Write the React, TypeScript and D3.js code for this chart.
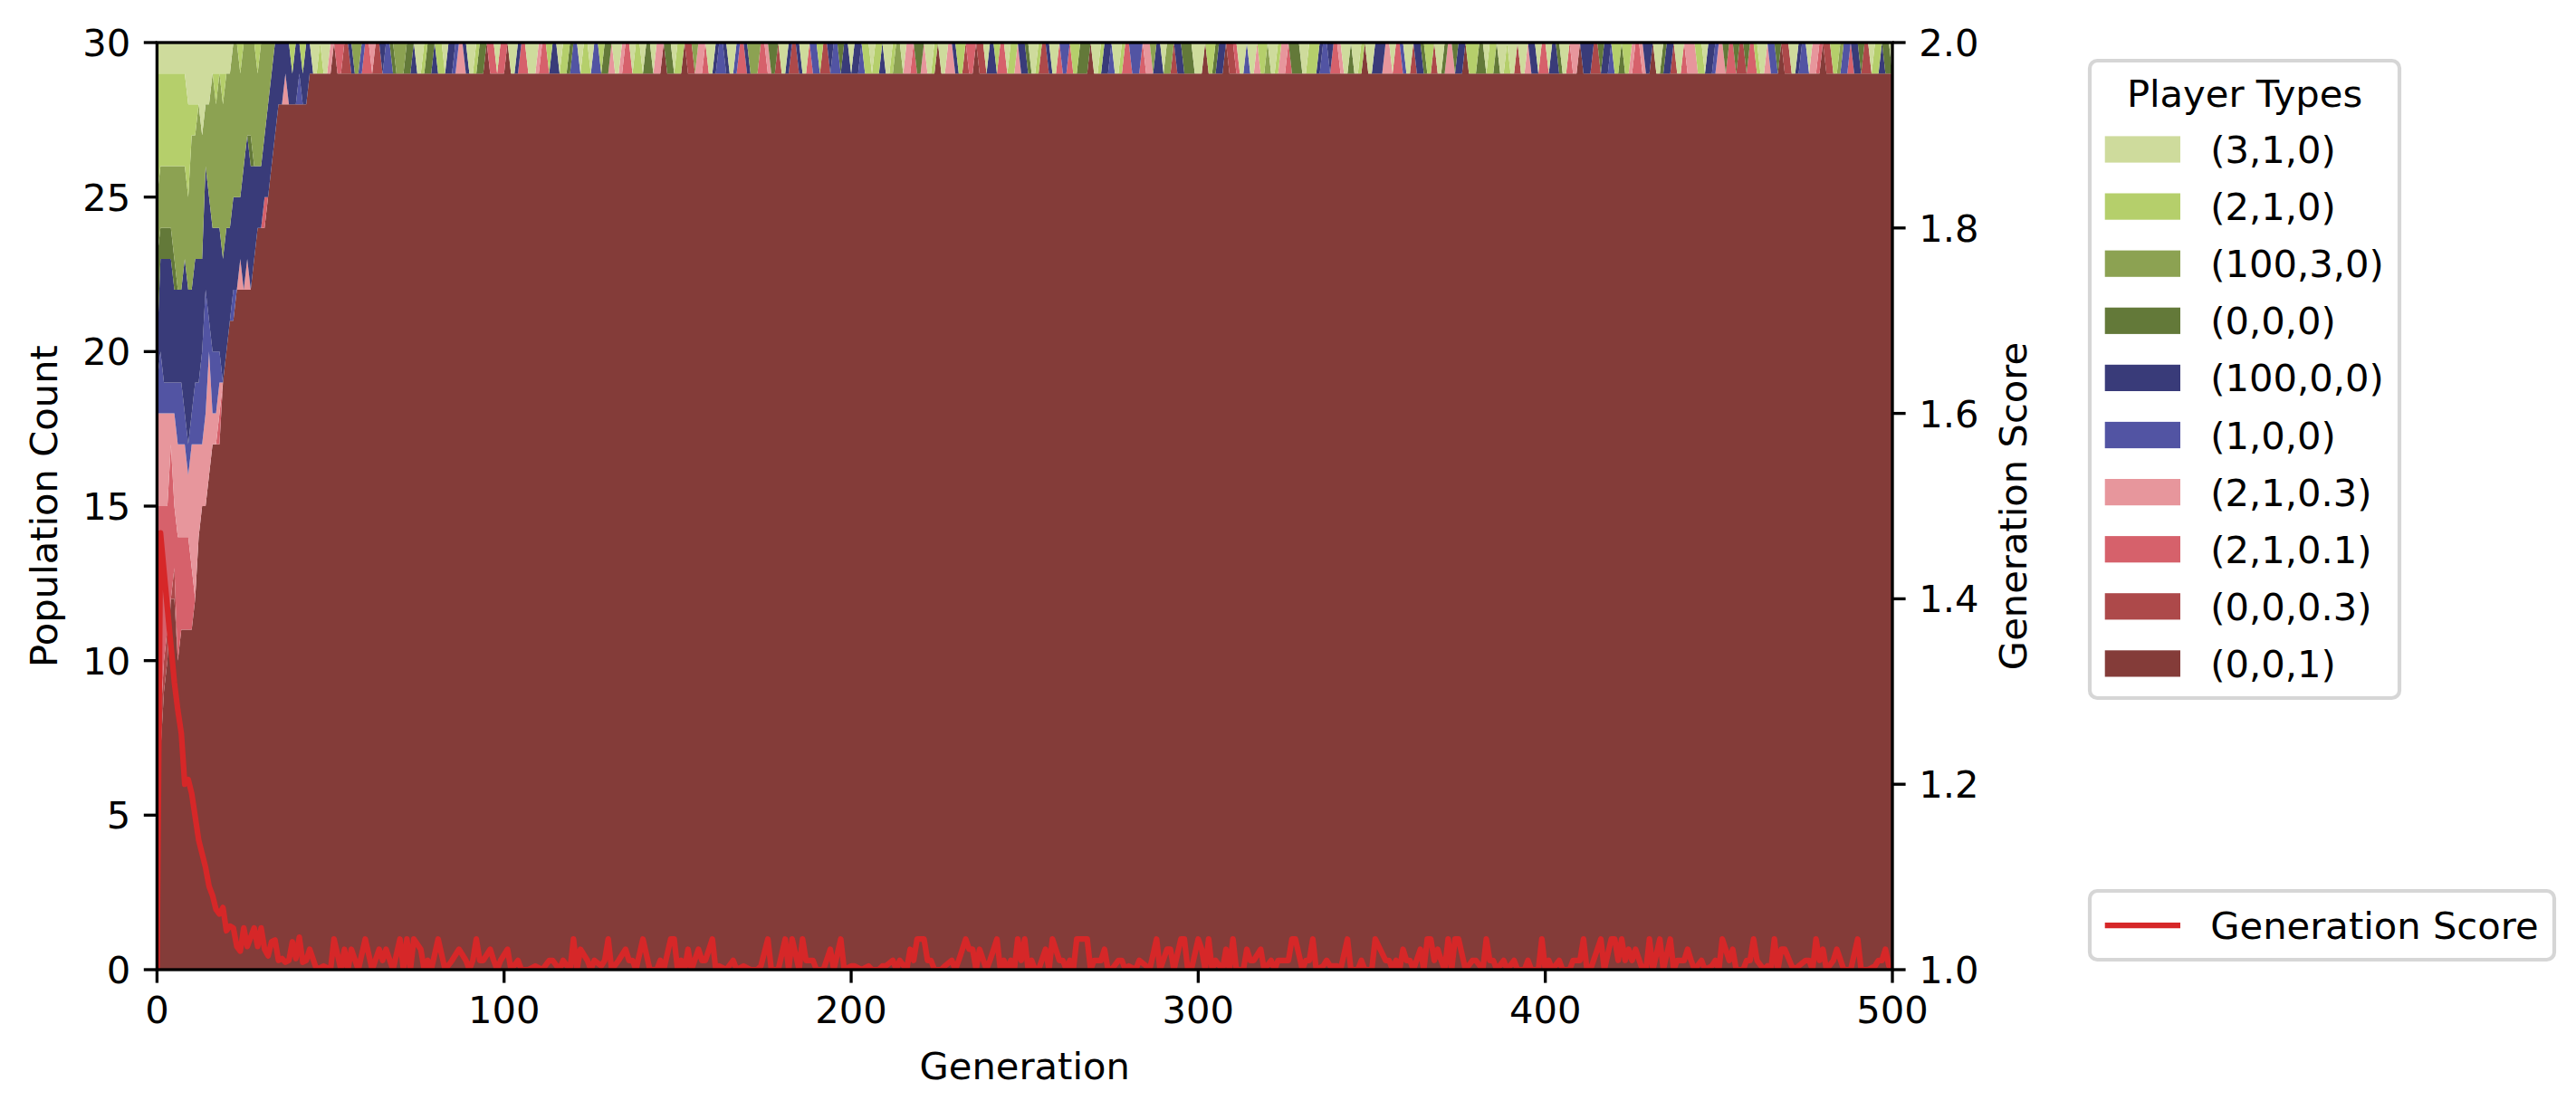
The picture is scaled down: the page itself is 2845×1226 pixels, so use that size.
import React from 'react';
import * as d3 from 'd3';

// player types in stacking order, bottom to top
const TYPE_LABELS = ['(0,0,1)', '(0,0,0.3)', '(2,1,0.1)', '(2,1,0.3)', '(1,0,0)', '(100,0,0)', '(0,0,0)', '(100,3,0)', '(2,1,0)', '(3,1,0)'];
const TYPE_COLORS = ['#843c39', '#ad494a', '#d6616b', '#e7969c', '#5254a3', '#393b79', '#637939', '#8ca252', '#b5cf6b', '#cedb9c'];
const POPULATION = 30;

// generations 0-43: cumulative top of the first nine types (the last one always ends at 30)
const EARLY_BOUNDS = [
  [3, 4, 15, 18, 19, 20, 23, 25, 29],
  [7, 8, 15, 18, 20, 23, 24, 26, 29],
  [9, 10, 15, 18, 19, 23, 24, 26, 29],
  [10, 11, 15, 18, 19, 23, 24, 26, 29],
  [12, 12, 17, 18, 19, 23, 24, 26, 29],
  [12, 13, 15, 18, 19, 22, 23, 26, 29],
  [10, 10, 14, 17, 19, 22, 22, 26, 29],
  [11, 11, 14, 17, 19, 22, 22, 26, 29],
  [11, 11, 14, 17, 18, 23, 23, 26, 29],
  [11, 11, 14, 16, 17, 22, 22, 25, 28],
  [11, 11, 13, 17, 18, 22, 22, 27, 28],
  [12, 12, 12, 17, 19, 23, 23, 27, 28],
  [14, 14, 14, 17, 19, 23, 23, 28, 28],
  [15, 15, 15, 17, 20, 23, 23, 27, 27],
  [15, 15, 15, 18, 22, 26, 26, 28, 28],
  [16, 16, 16, 20, 21, 25, 25, 28, 28],
  [17, 17, 17, 18, 20, 24, 24, 29, 29],
  [17, 17, 17, 18, 20, 24, 24, 28, 29],
  [17, 17, 18, 19, 20, 24, 24, 29, 29],
  [19, 19, 19, 19, 19, 23, 23, 28, 29],
  [20, 20, 20, 20, 20, 24, 24, 29, 29],
  [21, 21, 21, 21, 21, 24, 24, 29, 29],
  [21, 21, 21, 21, 22, 25, 25, 30, 30],
  [22, 22, 22, 22, 22, 25, 25, 30, 30],
  [22, 22, 22, 23, 23, 25, 25, 29, 30],
  [22, 22, 22, 22, 22, 26, 26, 30, 30],
  [22, 22, 22, 23, 23, 27, 27, 30, 30],
  [22, 22, 22, 22, 22, 26, 27, 30, 30],
  [23, 23, 23, 23, 23, 26, 26, 30, 30],
  [24, 24, 24, 24, 24, 26, 26, 29, 30],
  [24, 24, 24, 24, 24, 26, 26, 30, 30],
  [24, 24, 25, 25, 25, 27, 27, 30, 30],
  [25, 25, 25, 25, 25, 28, 28, 30, 30],
  [26, 26, 26, 26, 26, 29, 29, 30, 30],
  [27, 27, 27, 27, 27, 30, 30, 30, 30],
  [28, 28, 28, 28, 28, 30, 30, 30, 30],
  [28, 28, 28, 28, 28, 30, 30, 30, 30],
  [28, 28, 28, 29, 29, 30, 30, 30, 30],
  [28, 28, 28, 28, 28, 30, 30, 30, 30],
  [28, 28, 28, 28, 28, 29, 29, 29, 30],
  [28, 28, 28, 28, 28, 30, 30, 30, 30],
  [28, 28, 28, 28, 29, 30, 30, 30, 30],
  [28, 28, 28, 28, 28, 29, 29, 29, 30],
  [28, 28, 28, 28, 28, 30, 30, 30, 30],
];

// generations 44-500: 29 of (0,0,1) plus one other player; each digit is that player's type index
// (a 0 means all thirty are (0,0,1))
const TOP_SLOT_A = // 44-199
  '599899302211577422311544677766599866588955433599866022922099' +
  '522999322855988644988944866399322988966933066988011733299544' +
  '599422577722366199511599244811544655';
const TOP_SLOT_B = // 200-352
  '955488988599877933266399809933588122011955822988355699811599' +
  '244288666099855499822444233755977155666999088655011299499388' +
  '799833266699888544522399699809955';
const TOP_SLOT_C = // 353-500
  '533922499155688199633655088866988699899199355922955699233055' +
  '511655488688322355099655199233388955433622611622899344601199' +
  '5449332011887442556119885669';

// generation score, generations 0-43
const SCORE_EARLY = [
  1.0, 1.471, 1.43, 1.39, 1.35, 1.31, 1.28, 1.255, 1.2, 1.205, 1.19, 1.165, 1.14, 1.125, 1.11,
  1.09, 1.08, 1.065, 1.06, 1.067, 1.042, 1.047, 1.045, 1.025, 1.02, 1.045, 1.025, 1.035, 1.045,
  1.025, 1.045, 1.022, 1.015, 1.03, 1.032, 1.01, 1.012, 1.008, 1.01, 1.03, 1.012, 1.035, 1.008, 1.01,
];

// later score as "generation + level" readings
const SCORE_LEVELS: Record<string, number> = { T: 1.033, M: 1.022, L: 1.01, l: 1.004, Z: 1.0 };
const SCORE_LATE_A = ('44M 46Z 48l 50Z 51T 53Z 54M 55Z 56M 58Z 60T 62Z 64M 65L 66M 68Z 70T 71Z 72T 73Z 74T 76M 77Z 78L 79Z ' +
  '81T 83Z 85L 87M 89L 90Z 91L 92T 93L 94L 96M 97L 98Z 99L 101M 102Z 104L 105Z 107Z 109l 111Z 113L 114L 116Z 117L ' +
  '119Z 120T 121Z 122M 124L 125Z 126L 128l 129L 130T 131Z 133L 135M 136L 137L 138Z 140T 142Z 144Z 145L 146Z 148T ' +
  '149T 150Z 151L 152Z 153M 154Z 156M 157L 158L 160T 161Z 162l 164Z 166L 167Z 169l 171Z 173Z 174l 176T 177Z 179Z ' +
  '181T 182Z 183T 185Z 186T 187L 189L 190Z 192Z 194M 195Z 197T 198Z').split(' ');
const SCORE_LATE_B = ('200l 201l 203Z 205l 206Z 208Z 209l 210l 212L 213Z 214L 216Z 217M 218L 219T 221T 222L 223L 224Z 226Z ' +
  '227l 229L 230Z 231L 233T 234M 235M 236Z 237M 239Z 240L 242T 243Z 244L 245Z 246L 247Z 248T 249L 250T 251Z 252L ' +
  '253Z 254Z 256M 257Z 258T 260L 261L 262Z 263L 264Z 265T 267T 268T 269Z 270L 272L 273M 274Z 275Z 277L 278L 279Z ' +
  '280l 282Z 283L 285l 286Z 288T 289Z 291M 292M 293Z 295T 296T 297Z 298Z 300T 301M 302Z 303T 304Z 305L 307Z 308M ' +
  '309Z 310T 311Z 313Z 314M 315L 316L 318M 319Z 321L 322Z 323L 325L 326L 327T 328T 330Z 331L 332L 333T 334Z 336l ' +
  '337L 338l 340l 341Z 343T 344Z 346Z 347L 348Z 350Z 351T').split(' ');
const SCORE_LATE_C = ('354L 355L 356Z 357L 358Z 359M 360L 361L 362Z 364M 365Z 366T 367T 368L 369M 370L 371Z 372T 373Z ' +
  '374T 375T 377Z 379L 380L 382Z 383T 384L 385L 386Z 388L 389Z 391L 392Z 394Z 395L 396Z 398Z 399T 400Z 401L 402Z ' +
  '404L 405Z 407Z 408L 410L 411T 412Z 413Z 415M 416T 417Z 419T 420T 421L 422T 423L 424M 425L 426M 428Z 429Z 430T ' +
  '431Z 433T 434Z 436T 437Z 438L 440L 441M 442L 443Z 445L 446Z 448l 449L 450Z 451T 453L 454M 455Z 457Z 458L 459L ' +
  '460T 461L 463Z 464l 465Z 466T 467Z 468M 469M 471l 472Z 473l 475L 476L 477Z 478T 479L 480M 481Z 483L 484M 486Z ' +
  '487Z 488Z 490T 491Z 493Z 495l 496L 497L 498M 499l 500l').split(' ');

const X_TICKS = [0, 100, 200, 300, 400, 500];
const POP_TICKS = [0, 5, 10, 15, 20, 25, 30];
const SCORE_TICKS = [1.0, 1.2, 1.4, 1.6, 1.8, 2.0];

const WIDTH = 2845;
const HEIGHT = 1226;
const PLOT = { left: 173.4, right: 2090, top: 47, bottom: 1071 };
const FONT = 'DejaVu Sans, sans-serif';
const FS = 41.67;
const TICK = 14.6;
const LW = 3.33;

export default function App() {
  const x = d3.scaleLinear().domain([0, 500]).range([PLOT.left, PLOT.right]);
  const yPop = d3.scaleLinear().domain([0, POPULATION]).range([PLOT.bottom, PLOT.top]);
  const yScore = d3.scaleLinear().domain([1, 2]).range([PLOT.bottom, PLOT.top]);

  // per-generation counts
  const topSlots = TOP_SLOT_A + TOP_SLOT_B + TOP_SLOT_C;
  const rows = d3.range(0, 501).map((g) => {
    const counts = new Array(10).fill(0);
    if (g < EARLY_BOUNDS.length) {
      const b = [...EARLY_BOUNDS[g], POPULATION];
      b.forEach((v, i) => (counts[i] = v - (i ? b[i - 1] : 0)));
    } else {
      const c = +topSlots[g - EARLY_BOUNDS.length];
      counts[0] = POPULATION - 1;
      counts[c] += 1;
    }
    const row: any = { gen: g };
    counts.forEach((v, i) => (row[String(i)] = v));
    return row;
  });

  const keys = TYPE_LABELS.map((_, i) => String(i));
  const series = d3.stack().keys(keys)(rows);
  const area = d3
    .area<any>()
    .x((d) => x(d.data.gen))
    .y0((d) => yPop(d[0]))
    .y1((d) => yPop(d[1]));

  const scorePoints: [number, number][] = SCORE_EARLY.map((v, g) => [g, v] as [number, number]);
  [...SCORE_LATE_A, ...SCORE_LATE_B, ...SCORE_LATE_C].forEach((s) => {
    const m = s.match(/^(\d+)(\w)$/);
    if (m) scorePoints.push([+m[1], SCORE_LEVELS[m[2]]]);
  });
  const line = d3
    .line<[number, number]>()
    .x((d) => x(d[0]))
    .y((d) => yScore(d[1]));

  const midY = (PLOT.top + PLOT.bottom) / 2;
  const midX = (PLOT.left + PLOT.right) / 2;

  // legend layout
  const legLeft = 2308;
  const legWidth = 342;
  const rowPitch = 63.1;
  const legendTypes = TYPE_LABELS.map((label, i) => ({ label, color: TYPE_COLORS[i] })).reverse();

  return (
    <svg
      width={WIDTH}
      height={HEIGHT}
      style={{ position: 'absolute', left: 0, top: 0, display: 'block' }}
      fontFamily={FONT}
    >
      <defs>
        <clipPath id="plot-clip">
          <rect x={PLOT.left} y={PLOT.top} width={PLOT.right - PLOT.left} height={PLOT.bottom - PLOT.top} />
        </clipPath>
      </defs>
      <rect width={WIDTH} height={HEIGHT} fill="#ffffff" />

      {/* stacked population */}
      <g clipPath="url(#plot-clip)">
        {series.map((s, i) => (
          <path key={i} d={area(s as any) || ''} fill={TYPE_COLORS[i]} />
        ))}
      </g>

      {/* generation score */}
      <g clipPath="url(#plot-clip)">
        <path
          d={line(scorePoints) || ''}
          fill="none"
          stroke="#d62728"
          strokeWidth={6.25}
          strokeLinejoin="round"
          strokeLinecap="square"
        />
      </g>

      {/* spines */}
      <rect
        x={PLOT.left}
        y={PLOT.top}
        width={PLOT.right - PLOT.left}
        height={PLOT.bottom - PLOT.top}
        fill="none"
        stroke="#000"
        strokeWidth={LW}
      />

      {/* left axis */}
      {POP_TICKS.map((t) => (
        <g key={`p${t}`}>
          <line x1={PLOT.left - TICK} x2={PLOT.left} y1={yPop(t)} y2={yPop(t)} stroke="#000" strokeWidth={LW} />
          <text x={PLOT.left - TICK - 14.6} y={yPop(t) + 15} fontSize={FS} textAnchor="end">
            {t}
          </text>
        </g>
      ))}

      {/* right axis */}
      {SCORE_TICKS.map((t) => (
        <g key={`s${t}`}>
          <line x1={PLOT.right} x2={PLOT.right + TICK} y1={yScore(t)} y2={yScore(t)} stroke="#000" strokeWidth={LW} />
          <text x={PLOT.right + TICK + 14.6} y={yScore(t) + 15} fontSize={FS} textAnchor="start">
            {d3.format('.1f')(t)}
          </text>
        </g>
      ))}

      {/* bottom axis */}
      {X_TICKS.map((t) => (
        <g key={`x${t}`}>
          <line x1={x(t)} x2={x(t)} y1={PLOT.bottom} y2={PLOT.bottom + TICK} stroke="#000" strokeWidth={LW} />
          <text x={x(t)} y={1130} fontSize={FS} textAnchor="middle">
            {t}
          </text>
        </g>
      ))}

      {/* axis labels */}
      <text x={midX} y={1192} fontSize={FS} textAnchor="middle">
        Generation
      </text>
      <text transform={`translate(63,${midY}) rotate(-90)`} fontSize={FS} textAnchor="middle">
        Population Count
      </text>
      <text transform={`translate(2238,${midY}) rotate(-90)`} fontSize={FS} textAnchor="middle">
        Generation Score
      </text>

      {/* legend: player types */}
      <rect
        x={legLeft}
        y={67}
        width={legWidth}
        height={704}
        rx={8.3}
        fill="#ffffff"
        fillOpacity={0.8}
        stroke="#cccccc"
        strokeOpacity={0.8}
        strokeWidth={4.17}
      />
      <text x={legLeft + legWidth / 2} y={118} fontSize={FS} textAnchor="middle">
        Player Types
      </text>
      {legendTypes.map((item, i) => {
        const cy = 165 + i * rowPitch;
        return (
          <g key={item.label}>
            <rect x={legLeft + 16.7} y={cy - 14.6} width={83.3} height={29.2} fill={item.color} />
            <text x={legLeft + 133.3} y={cy + 15} fontSize={FS}>
              {item.label}
            </text>
          </g>
        );
      })}

      {/* legend: score line */}
      <rect
        x={legLeft}
        y={984}
        width={513}
        height={76}
        rx={8.3}
        fill="#ffffff"
        fillOpacity={0.8}
        stroke="#cccccc"
        strokeOpacity={0.8}
        strokeWidth={4.17}
      />
      <line x1={legLeft + 16.7} x2={legLeft + 100} y1={1022} y2={1022} stroke="#d62728" strokeWidth={6.25} />
      <text x={legLeft + 133.3} y={1037} fontSize={FS}>
        Generation Score
      </text>
    </svg>
  );
}
